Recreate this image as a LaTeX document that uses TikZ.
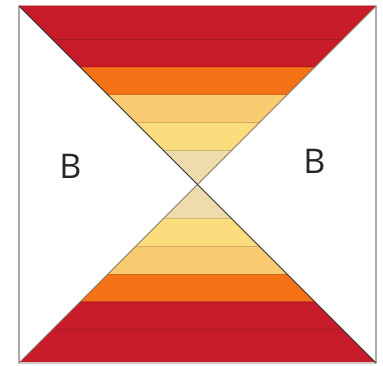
\documentclass[tikz,border=0pt]{standalone}
\usepackage{fontspec}
\setmainfont{Open Sans}
\usepackage{tikz}
\usetikzlibrary{calc}
\definecolor{bandRed}{RGB}{200,27,42}
\definecolor{bandOrange}{RGB}{245,114,22}
\definecolor{bandApricot}{RGB}{251,203,114}
\definecolor{bandYellow}{RGB}{251,221,126}
\definecolor{bandBeige}{RGB}{239,220,172}
\definecolor{frameGray}{RGB}{170,170,170}
\definecolor{diagGray}{RGB}{140,126,104}
\tikzset{
  bandFill/.style={fill=#1,draw=#1!78!black,line width=0.5pt,line join=miter},
  frameLine/.style={draw=frameGray,line width=1.2pt},
  diagLine/.style={draw=#1,line width=0.9pt},
  pieceLabel/.style={font=\fontsize{34}{34}\selectfont,text=black!85,inner sep=0pt},
}
\begin{document}
\begin{tikzpicture}[x=1pt,y=1pt]
  \useasboundingbox (0,0) rectangle (383,366);
  \fill[white] (0,0) rectangle (383,366);
  \coordinate (m) at (197.5,181.5);
  \coordinate (tl) at (19,360);
  \coordinate (tr) at (376,360);
  \coordinate (bl) at (19,3);
  \coordinate (br) at (376,3);
  % bands, from the middle outwards
  \foreach \a/\b/\c in {0/34/bandBeige,34/62/bandYellow,62/90/bandApricot,
                        90/117.5/bandOrange,117.5/145/bandRed,145/178.5/bandRed}{
    \foreach \s in {1,-1}{
      \path[bandFill=\c] ($(m)+(-\a,\s*\a)$) -- ($(m)+(\a,\s*\a)$)
        -- ($(m)+(\b,\s*\b)$) -- ($(m)+(-\b,\s*\b)$) -- cycle;
    }
  }
  \draw[frameLine] (tl) -- (bl) (tr) -- (br);
  \draw[frameLine,draw=frameGray!60] (bl) -- (br);
  \draw[diagLine=diagGray] (tr) -- (bl);
  \draw[diagLine=black!80] (tl) -- (br);
  \node[pieceLabel] (lb) at (70.5,200) {B};
  \node[pieceLabel] (rb) at (314.5,205) {B};
\end{tikzpicture}
\end{document}
